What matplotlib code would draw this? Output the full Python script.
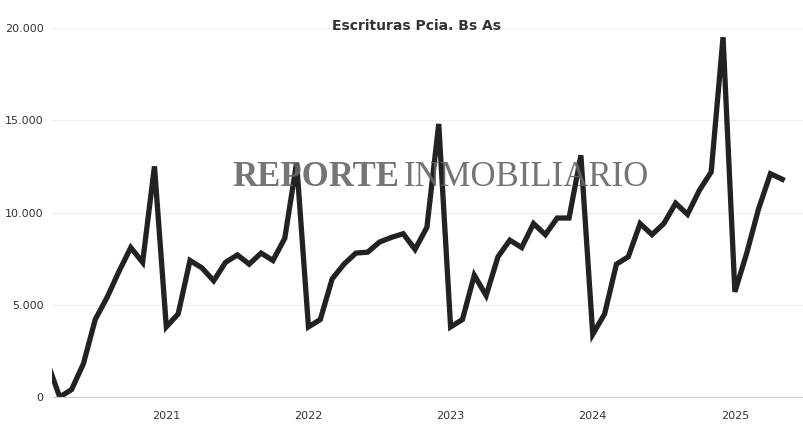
import matplotlib
matplotlib.use("Agg")
import matplotlib.pyplot as plt
from matplotlib.ticker import FuncFormatter

start_label = "2020-03"
values = [1800, 0, 400, 1800, 4200, 5400, 6800, 8100, 7300, 12500,
          3800, 4500, 7400, 7000, 6300, 7300, 7700, 7200, 7800, 7400, 8600, 12700,
          3800, 4200, 6400, 7200, 7800, 7850, 8400, 8650, 8850, 8000, 9200, 14800,
          3800, 4200, 6600, 5500, 7600, 8500, 8100, 9400, 8800, 9700, 9700, 13100,
          3400, 4500, 7200, 7600, 9400, 8800, 9400, 10500, 9900, 11200, 12200, 19500,
          5700, 7800, 10200, 12100, 11800]
year_labels = ["2021", "2022", "2023", "2024", "2025"]
year_pos = [10, 22, 34, 46, 58]  # month index of January
y_ticks = [0, 5000, 10000, 15000, 20000]

fig = plt.figure(figsize=(8.04, 4.40), dpi=100)
ax = fig.add_axes([52/804, 1-397/440, (803-52)/804, (397-28)/440])
x = list(range(len(values)))
ax.plot(x, values, color="#222222", lw=3.8, solid_joinstyle="miter", clip_on=True)
ax.set_xlim(0.35, 63.75)
ax.set_ylim(0, 20000)
ax.set_yticks(y_ticks)
ax.yaxis.set_major_formatter(FuncFormatter(lambda v, p: f"{int(v):,}".replace(",", ".")))
ax.set_xticks(year_pos)
ax.set_xticklabels(year_labels)
ax.tick_params(axis="both", length=0, labelsize=8, colors="#333333")
ax.tick_params(axis="y", pad=6)
ax.tick_params(axis="x", pad=10)
ax.grid(axis="y", color="#eeeeee", lw=0.8)
for s in ["top", "right", "left"]:
    ax.spines[s].set_visible(False)
ax.spines["bottom"].set_color("#cccccc")
fig.text(417/804, 1-26/440, "Escrituras Pcia. Bs As", ha="center", va="center",
         fontsize=10, fontweight="bold", color="#333333")
fig.text(232/804, 1-177/440, "REPORTE", ha="left", va="center", fontsize=25,
         fontweight="bold", family="Liberation Serif", color="#666666", alpha=0.9)
fig.text(404/804, 1-177/440, "INMOBILIARIO", ha="left", va="center", fontsize=25,
         family="Liberation Serif", color="#666666", alpha=0.9)
fig.savefig("out.png", dpi=100)
